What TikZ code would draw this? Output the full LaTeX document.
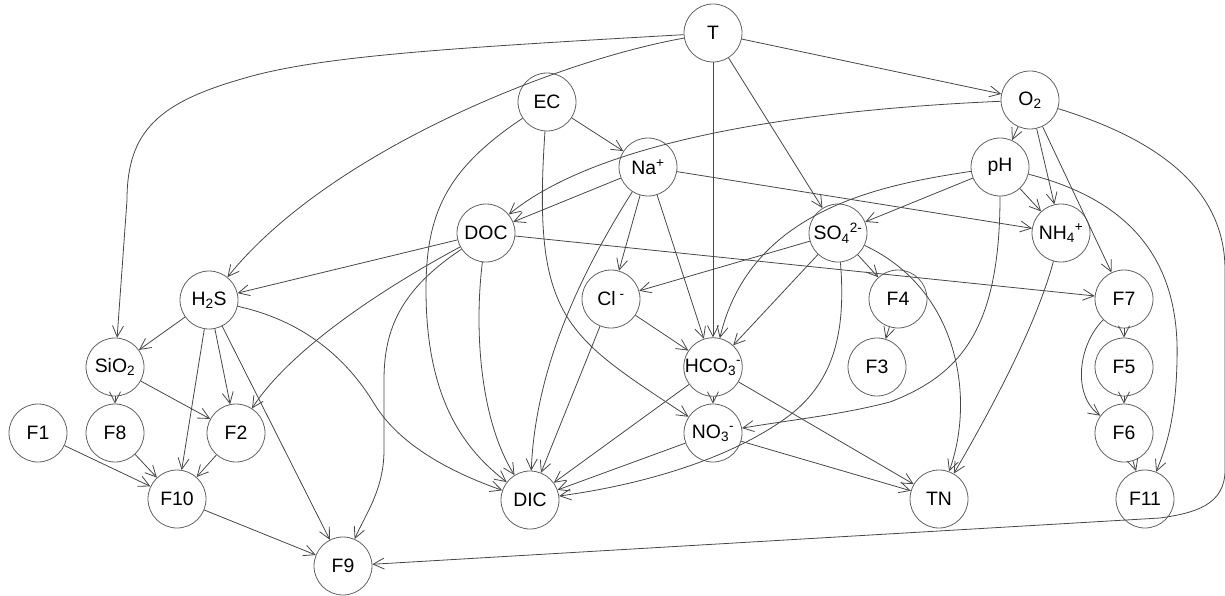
\documentclass[tikz,border=0pt]{standalone}
\usepackage{fontspec}
\setmainfont{Liberation Sans}
\usetikzlibrary{arrows.meta}
\begin{document}
\begin{tikzpicture}[x=1pt,y=-1pt,
  vnode/.style={circle,draw=black!62,line width=0.8pt,minimum size=58pt,inner sep=0pt,font=\fontsize{19.4}{19.4}\selectfont},
  edge/.style={draw=black!72,line width=0.8pt,-{Straight Barb[length=11pt,width=11pt]}}]
\useasboundingbox (0,0) rectangle (1225,596);
\node[vnode] (T) at (713,33) {T};
\node[vnode] (EC) at (547,102) {EC};
\node[vnode] (O2) at (1030,100) {O\textsubscript{2}};
\node[vnode] (Na) at (648,167) {Na\textsuperscript{+}};
\node[vnode] (pH) at (1000,167) {pH};
\node[vnode] (DOC) at (486,233) {DOC};
\node[vnode] (SO4) at (838,233) {SO\textsubscript{4}\textsuperscript{2-}};
\node[vnode] (NH4) at (1061,233) {NH\textsubscript{4}\textsuperscript{+}};
\node[vnode] (H2S) at (209,300) {H\textsubscript{2}S};
\node[vnode] (Cl) at (611,299) {Cl\textsuperscript{ -}};
\node[vnode] (F4) at (898,299) {F4};
\node[vnode] (F7) at (1124,299) {F7};
\node[vnode] (SiO2) at (115,367) {SiO\textsubscript{2}};
\node[vnode] (HCO3) at (713,367) {HCO\textsubscript{3}\textsuperscript{-}};
\node[vnode] (F3) at (877,367) {F3};
\node[vnode] (F5) at (1124,367) {F5};
\node[vnode] (F1) at (38,433) {F1};
\node[vnode] (F8) at (115,433) {F8};
\node[vnode] (F2) at (236,433) {F2};
\node[vnode] (NO3) at (713,433) {NO\textsubscript{3}\textsuperscript{-}};
\node[vnode] (F6) at (1124,433) {F6};
\node[vnode] (F10) at (177,499) {F10};
\node[vnode] (DIC) at (530,500) {DIC};
\node[vnode] (TN) at (939,499) {TN};
\node[vnode] (F11) at (1145,499) {F11};
\node[vnode] (F9) at (343,566) {F9};

\draw[edge] (T) .. controls (450,48) and (320,56) .. (245,78) .. controls (160,102) and (127,130) .. (127,200) -- (SiO2);
\draw[edge] (T) .. controls (560,60) and (330,150) .. (H2S);
\draw[edge] (T) -- (HCO3);
\draw[edge] (T) -- (SO4);
\draw[edge] (T) -- (O2);
\draw[edge] (EC) -- (Na);
\draw[edge] (EC) .. controls (445,170) and (426,215) .. (426,290) .. controls (426,400) and (465,450) .. (DIC);
\draw[edge] (EC) .. controls (532,320) and (565,335) .. (NO3);
\draw[edge] (O2) -- (pH);
\draw[edge] (O2) -- (NH4);
\draw[edge] (O2) -- (F7);
\draw[edge] (O2) .. controls (800,110) and (600,140) .. (DOC);
\draw[edge] (O2) .. controls (1160,140) and (1225,190) .. (1225,270) -- (1225,470) .. controls (1225,505) and (1195,513) .. (1160,518) -- (F9);
\draw[edge] (Na) -- (DOC);
\draw[edge] (Na) -- (Cl);
\draw[edge] (Na) -- (HCO3);
\draw[edge] (Na) .. controls (570,290) and (535,380) .. (DIC);
\draw[edge] (Na) -- (NH4);
\draw[edge] (pH) -- (SO4);
\draw[edge] (pH) -- (NH4);
\draw[edge] (pH) .. controls (880,185) and (750,210) .. (HCO3);
\draw[edge] (pH) .. controls (1000,330) and (960,375) .. (890,402) .. controls (840,415) and (790,420) .. (NO3);
\draw[edge] (pH) .. controls (1130,200) and (1180,260) .. (1177,360) .. controls (1176,420) and (1165,450) .. (F11);
\draw[edge] (DOC) -- (H2S);
\draw[edge] (DOC) -- (F7);
\draw[edge] (DOC) .. controls (380,290) and (290,350) .. (F2);
\draw[edge] (DOC) .. controls (474,330) and (480,420) .. (DIC);
\draw[edge] (DOC) .. controls (400,290) and (384,330) .. (384,380) -- (384,450) .. controls (384,490) and (365,515) .. (F9);
\draw[edge] (SO4) -- (Cl);
\draw[edge] (SO4) -- (HCO3);
\draw[edge] (SO4) -- (F4);
\draw[edge] (SO4) .. controls (960,290) and (975,400) .. (TN);
\draw[edge] (SO4) .. controls (846,330) and (835,380) .. (790,415) .. controls (730,460) and (640,485) .. (DIC);
\draw[edge] (NH4) .. controls (1035,330) and (985,420) .. (TN);
\draw[edge] (H2S) -- (SiO2);
\draw[edge] (H2S) -- (F2);
\draw[edge] (H2S) -- (F10);
\draw[edge] (H2S) -- (F9);
\draw[edge] (H2S) .. controls (300,320) and (345,355) .. (375,405) .. controls (400,445) and (450,472) .. (DIC);
\draw[edge] (Cl) -- (HCO3);
\draw[edge] (Cl) -- (DIC);
\draw[edge] (F4) -- (F3);
\draw[edge] (F7) -- (F5);
\draw[edge] (F7) .. controls (1078,345) and (1072,395) .. (F6);
\draw[edge] (SiO2) -- (F8);
\draw[edge] (SiO2) -- (F2);
\draw[edge] (HCO3) -- (NO3);
\draw[edge] (HCO3) -- (DIC);
\draw[edge] (HCO3) -- (TN);
\draw[edge] (F5) -- (F6);
\draw[edge] (F1) -- (F10);
\draw[edge] (F8) -- (F10);
\draw[edge] (F2) -- (F10);
\draw[edge] (NO3) -- (DIC);
\draw[edge] (NO3) -- (TN);
\draw[edge] (F6) -- (F11);
\draw[edge] (F10) -- (F9);
\end{tikzpicture}
\end{document}
